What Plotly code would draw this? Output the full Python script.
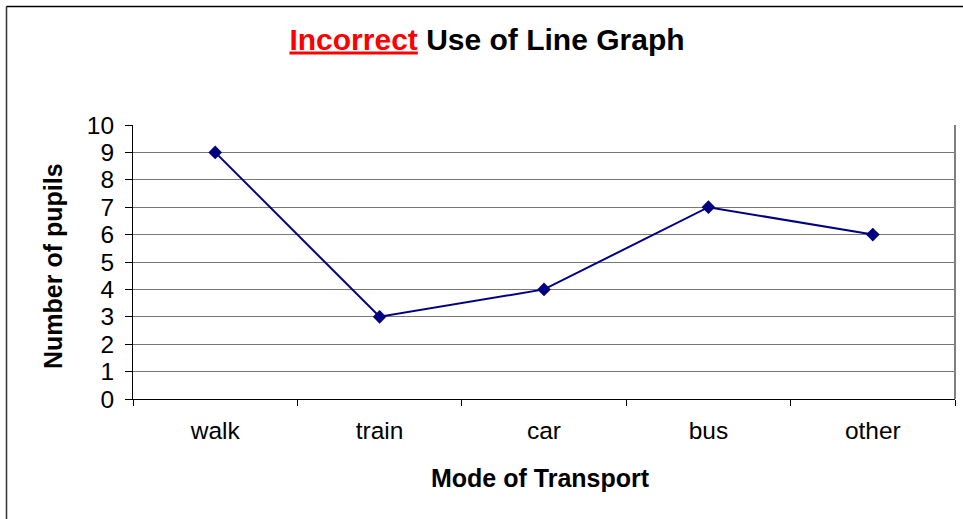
import plotly.graph_objects as go

modes = ["walk", "train", "car", "bus", "other"]
pupils = [9, 3, 4, 7, 6]
y_ticks = list(range(0, 11))

FONT = "Liberation Sans, Arial, sans-serif"

fig = go.Figure()
fig.add_trace(go.Scatter(
    x=modes, y=pupils, mode="lines+markers",
    line=dict(color="#000080", width=2),
    marker=dict(symbol="diamond", size=10.5, color="#000080"),
    cliponaxis=False, showlegend=False,
))

W, H = 963, 519
L, R, T, B = 133, 8, 125, 120
pw, ph = W - L - R, H - T - B

def px_x(p):
    return (p - L) / pw

def px_y(p):
    return (H - B - p) / ph

TICK_SIZE = 24.5
AX_TITLE_SIZE = 25

fig.update_layout(
    width=W, height=H,
    margin=dict(l=L, r=R, t=T, b=B, autoexpand=False),
    paper_bgcolor="white", plot_bgcolor="white",
    font=dict(family=FONT, color="black", size=TICK_SIZE),
    title=dict(
        text="<b><span style='color:#FF0000'><u>Incorrect</u></span> Use of Line Graph</b>",
        x=487 / W, xanchor="center", y=1 - 39 / H, yanchor="middle",
        font=dict(family=FONT, size=30, color="black"),
    ),
    xaxis=dict(
        type="category", range=[-0.5, 4.5],
        showgrid=False, showline=True, linecolor="black", linewidth=1,
        ticks="outside", tickson="boundaries", ticklen=6, tickcolor="black",
        tickfont=dict(family=FONT, size=TICK_SIZE, color="black"),
        ticklabelstandoff=10, zeroline=False, fixedrange=True,
    ),
    yaxis=dict(
        range=[0, 10], tickvals=y_ticks,
        showgrid=True, gridcolor="#777777", gridwidth=1.2,
        showline=True, linecolor="black", linewidth=1,
        ticks="outside", ticklen=7, tickcolor="black",
        tickfont=dict(family=FONT, size=TICK_SIZE, color="black"),
        ticklabelstandoff=6, zeroline=False, fixedrange=True,
    ),
    shapes=[
        # right edge of plot area
        dict(type="line", xref="paper", yref="paper", x0=1, x1=1, y0=0, y1=1,
             line=dict(color="#808080", width=2)),
        # outer chart frame (left and top)
        dict(type="line", xref="paper", yref="paper",
             x0=px_x(6.5), x1=px_x(6.5), y0=px_y(6.5), y1=px_y(530),
             line=dict(color="#333333", width=1.5)),
        dict(type="line", xref="paper", yref="paper",
             x0=px_x(6.5), x1=px_x(970), y0=px_y(6.5), y1=px_y(6.5),
             line=dict(color="black", width=1.5)),
    ],
    annotations=[
        dict(text="<b>Mode of Transport</b>", xref="paper", yref="paper",
             x=px_x(540), y=px_y(478), xanchor="center", yanchor="middle",
             showarrow=False, font=dict(family=FONT, size=AX_TITLE_SIZE, color="black")),
        dict(text="<b>Number of pupils</b>", xref="paper", yref="paper",
             x=px_x(53), y=px_y(266), xanchor="center", yanchor="middle",
             textangle=-90, showarrow=False,
             font=dict(family=FONT, size=AX_TITLE_SIZE, color="black")),
    ],
)

fig.write_html("out.html", config={"displayModeBar": False},
               post_script="document.body.style.margin='0';")
